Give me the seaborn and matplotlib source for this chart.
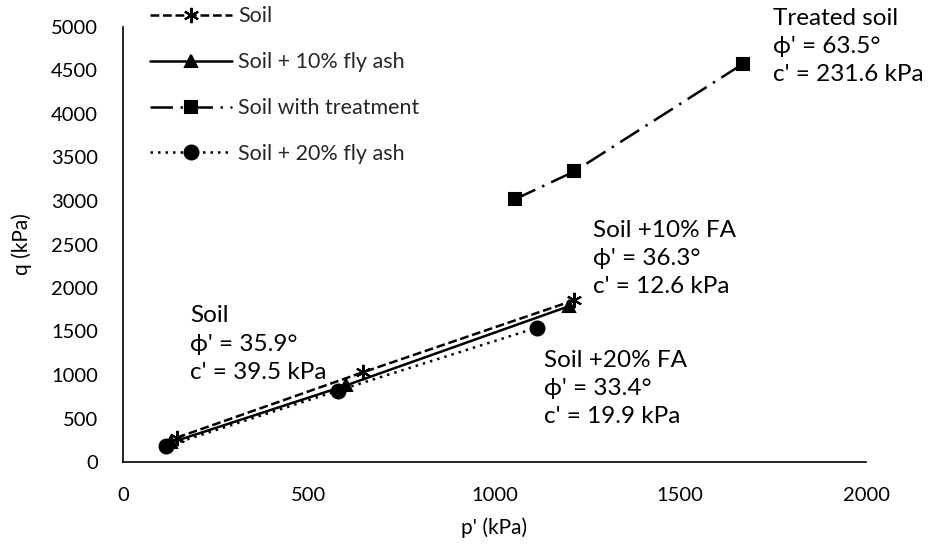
import matplotlib
matplotlib.use("Agg")
import matplotlib.pyplot as plt
import seaborn as sns
import pandas as pd

sns.set_theme(style="white")
plt.rcParams['font.family'] = ['Lato', 'DejaVu Sans']

soil_p = [145, 645, 1215]
soil_q = [280, 1030, 1860]
fa10_p = [130, 600, 1200]
fa10_q = [225, 880, 1790]
treat_p = [1055, 1215, 1670]
treat_q = [3020, 3340, 4580]
fa20_p = [115, 578, 1115]
fa20_q = [180, 820, 1545]

labels = ["Soil", "Soil + 10% fly ash", "Soil with treatment", "Soil + 20% fly ash"]

fig = plt.figure(figsize=(9.42, 5.56), dpi=100)
ax = fig.add_axes([123/942, 94/556, 743/942, 435/556])

series = [
    (soil_p, soil_q, labels[0], (6, 2, 0), 11, (3.5, 1.5)),
    (fa10_p, fa10_q, labels[1], '^', 8, None),
    (treat_p, treat_q, labels[2], 's', 8, (9, 3, 1, 3)),
    (fa20_p, fa20_q, labels[3], 'o', 10, (1, 2)),
]
for p, q, lab, mk, ms, dash in series:
    df = pd.DataFrame({"p": p, "q": q})
    sns.lineplot(data=df, x="p", y="q", ax=ax, color="black", marker=mk,
                 markersize=ms, markeredgecolor="black", markerfacecolor="black",
                 markeredgewidth=1.5, linewidth=1.8, label=lab, sort=False)
    line = ax.get_lines()[-1]
    if dash is not None:
        line.set_dashes(dash)

ax.set_xlim(0, 2000)
ax.set_ylim(0, 5000)
ax.set_xticks([0, 500, 1000, 1500, 2000])
ax.set_yticks(range(0, 5001, 500))
ax.tick_params(direction='in', length=6, width=1, labelsize=14.5, color='black',
               labelcolor='black')
ax.tick_params(axis='x', pad=18)
ax.tick_params(axis='y', pad=18)
for s in ['top', 'right']:
    ax.spines[s].set_visible(False)
for s in ['left', 'bottom']:
    ax.spines[s].set_color('black')
    ax.spines[s].set_linewidth(1.2)
ax.set_xlabel("p' (kPa)", fontsize=15, labelpad=10, color='black')
ax.set_ylabel("q (kPa)", fontsize=15, labelpad=14, color='black')

leg = ax.legend(loc='upper left', bbox_to_anchor=(0.022, 1.072), frameon=False,
                fontsize=15.5, handlelength=3.8, labelspacing=1.2, borderpad=0,
                handletextpad=0.3)

fs = 17.5
ax.text(180, 1800, "Soil\n\u03d5' = 35.9°\nc' = 39.5 kPa", fontsize=fs, va='top',
        linespacing=1.42, color='black')
ax.text(1265, 2780, "Soil +10% FA\n\u03d5' = 36.3°\nc' = 12.6 kPa", fontsize=fs, va='top',
        linespacing=1.42, color='black')
ax.text(1133, 1290, "Soil +20% FA\n\u03d5' = 33.4°\nc' = 19.9 kPa", fontsize=fs, va='top',
        linespacing=1.42, color='black')
ax.text(1750, 5220, "Treated soil\n\u03d5' = 63.5°\nc' = 231.6 kPa", fontsize=fs, va='top',
        linespacing=1.42, color='black', clip_on=False)

fig.savefig("out.png", dpi=100)
